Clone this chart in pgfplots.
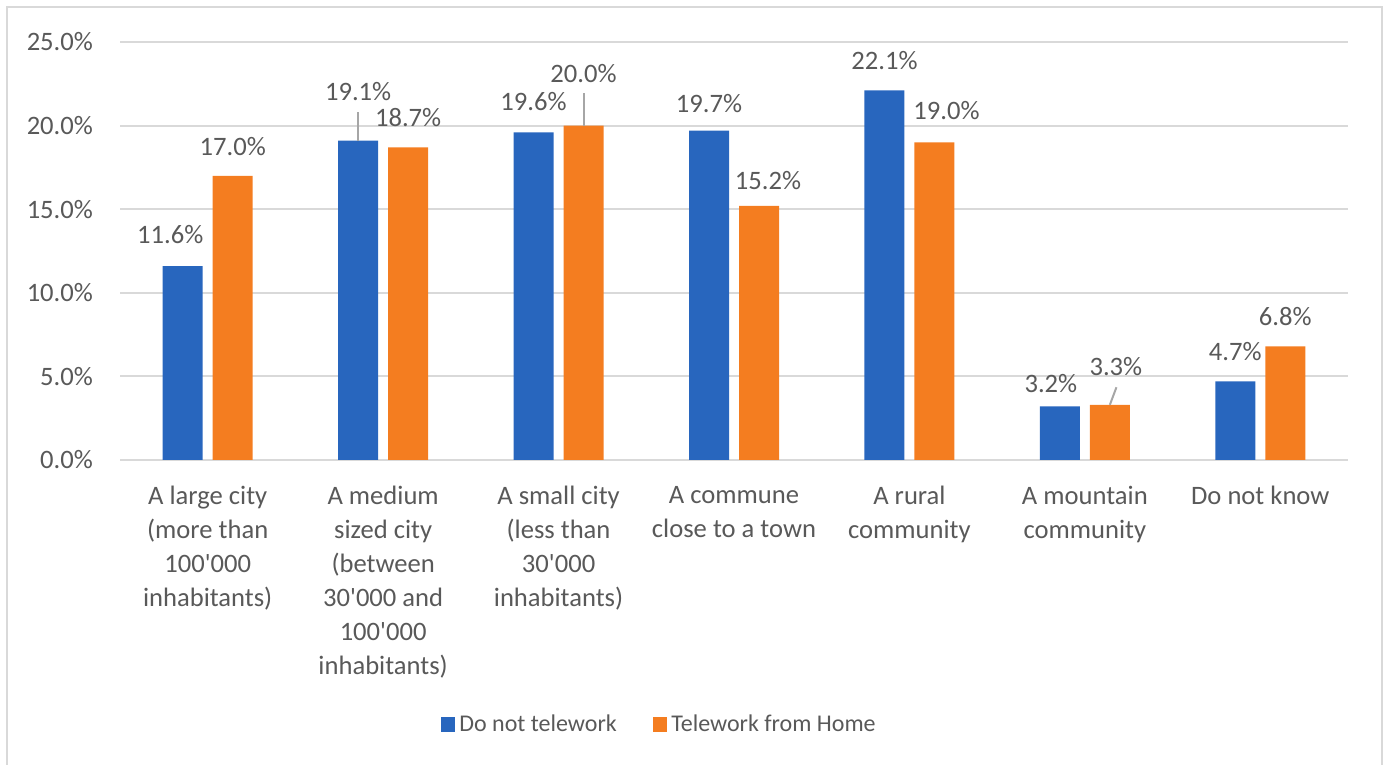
\documentclass[border=0pt]{standalone}
\usepackage{fontspec}
\setmainfont{Carlito}
\usepackage{pgfplots}
\usepackage{pgfplotstable}
\pgfplotsset{compat=1.18}
\definecolor{cblue}{RGB}{40,102,190}
\definecolor{corange}{RGB}{244,125,32}
\definecolor{txtgray}{RGB}{89,89,89}
\definecolor{gridgray}{RGB}{217,217,217}
\definecolor{leadgray}{RGB}{166,166,166}
\newcommand\q{\textquotesingle}

\pgfplotstableread{
x y dx dy
0 11.6 -12.5 31
1 19.1 0 48.6
2 19.6 0 30
3 19.7 0 27
4 22.1 0 29
5 3.2 -9 22
6 4.7 0 29
}\bluedata

\pgfplotstableread{
x y dx dy
0 17.0 0 29
1 18.7 0 29
2 20.0 0 51.6
3 15.2 9 25
4 19.0 12 31
5 3.3 6 37.5
6 6.8 0 29
}\orangedata

\begin{document}
\begin{tikzpicture}
\useasboundingbox (0,0) rectangle (693.5pt,382.5pt);
\draw[gridgray, line width=1pt] (3.5pt,-10pt) -- (3.5pt,379pt) -- (691pt,379pt) -- (691pt,-10pt);
\begin{axis}[
  at={(60pt,152.5pt)}, anchor=south west,
  scale only axis, width=614pt, height=209pt,
  xmin=-0.5, xmax=6.5, ymin=0, ymax=25,
  clip=false,
  axis line style={draw=none},
  major tick length=0pt,
  ytick={0,5,10,15,20,25},
  ymajorgrids, grid style={gridgray, line width=1pt},
  /pgf/number format/assume math mode=true,
  yticklabel={\pgfmathprintnumber[fixed,fixed zerofill,precision=1]{\tick}\%},
  yticklabel style={font=\fontsize{13.3}{16}\selectfont, text=txtgray, xshift=-10pt},
  xtick={0,1,2,3,4,5,6},
  xticklabels={
    {A large city\\(more than\\100\q000\\inhabitants)},
    {A medium\\sized city\\(between\\30\q000 and\\100\q000\\inhabitants)},
    {A small city\\(less than\\30\q000\\inhabitants)},
    {A commune\\close to a town},
    {A rural\\community},
    {A mountain\\community},
    {Do not know}},
  xticklabel style={font=\fontsize{13.3}{17}\selectfont, text=txtgray, align=center, anchor=north, yshift=-9.5pt},
  legend style={at={(0.44,-0.633)}, anchor=center, draw=none, fill=none,
    font=\fontsize{12}{15}\selectfont, text=txtgray,
    legend columns=2,
    /tikz/every even column/.append style={column sep=16pt}},
  nodes near coords style={font=\fontsize{13.3}{16}\selectfont, text=txtgray, anchor=base},
]
\addplot[ybar, bar width=20pt, bar shift=-12.5pt, fill=cblue, draw=none,
  point meta=y,
  visualization depends on={\thisrow{dx} \as \dx},
  visualization depends on={\thisrow{dy} \as \dy},
  nodes near coords={\pgfmathprintnumber[fixed,fixed zerofill,precision=1]{\pgfplotspointmeta}\%},
  nodes near coords style={xshift={0.5*\dx-12.5}, yshift={0.5*(\dy-8.5)}},
  legend image code/.code={\fill[cblue] (0pt,-3.6pt) rectangle (7.2pt,3.6pt);}]
  table[x=x, y=y] {\bluedata};
\addlegendentry{Do not telework}
\addplot[ybar, bar width=20pt, bar shift=12.5pt, fill=corange, draw=none,
  point meta=y,
  visualization depends on={\thisrow{dx} \as \dx},
  visualization depends on={\thisrow{dy} \as \dy},
  nodes near coords={\pgfmathprintnumber[fixed,fixed zerofill,precision=1]{\pgfplotspointmeta}\%},
  nodes near coords style={xshift={0.5*\dx+12.5}, yshift={0.5*(\dy-8.5)}},
  legend image code/.code={\fill[corange] (0pt,-3.6pt) rectangle (7.2pt,3.6pt);}]
  table[x=x, y=y] {\orangedata};
\addlegendentry{Telework from Home}
\addplot[forget plot, leadgray, line width=1pt] coordinates {(0.8575,19.1) (0.8575,20.83)};
\addplot[forget plot, leadgray, line width=1pt] coordinates {(2.1425,20.0) (2.1425,21.93)};
\addplot[forget plot, leadgray, line width=1pt] coordinates {(5.1425,3.3) (5.18,4.35)};
\end{axis}
\end{tikzpicture}
\end{document}
